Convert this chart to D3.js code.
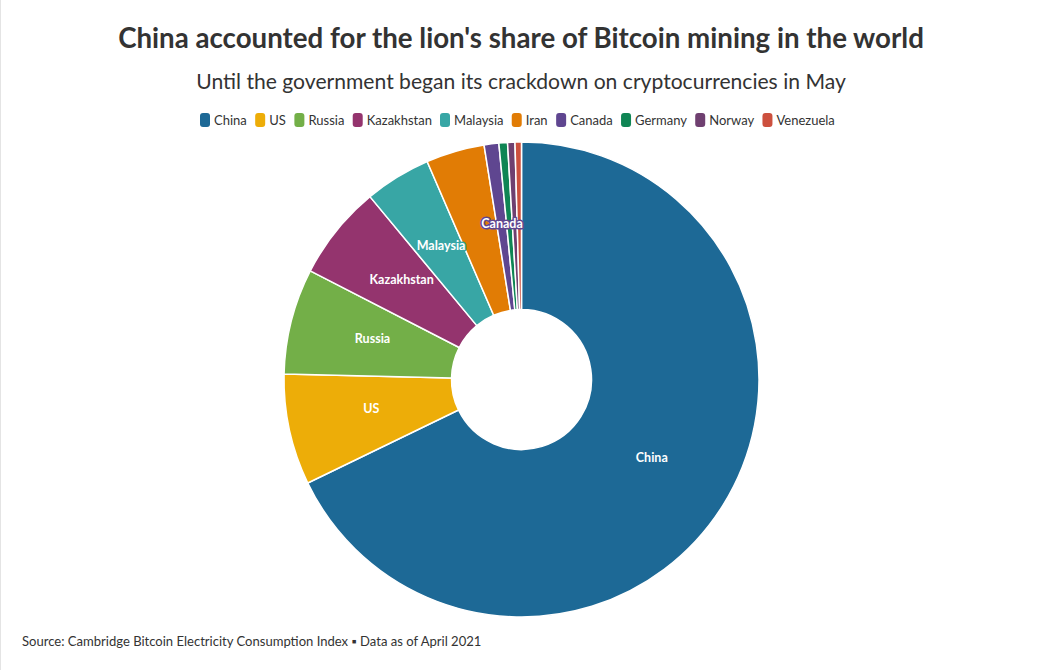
<!DOCTYPE html>
<html><head><meta charset="utf-8">
<script src="https://cdn.jsdelivr.net/npm/d3@7"></script>
<style>
html,body{margin:0;padding:0;background:#fff;}
svg{display:block;font-family:"Lato","Noto Sans",sans-serif;}
</style></head>
<body>
<svg id="chart" width="1040" height="670"></svg>
<script>
const countries = ["China","US","Russia","Kazakhstan","Malaysia","Iran","Canada","Germany","Norway","Venezuela"];
const shares = [65.08,7.24,6.90,6.17,4.33,3.82,0.96,0.56,0.48,0.42];
const colors = ["#1D6996","#EDAD08","#73AF48","#94346E","#38A6A5","#E17C05","#5F4690","#0F8554","#6F4070","#CC503E"];
const titleText = "China accounted for the lion's share of Bitcoin mining in the world";
const subtitleText = "Until the government began its crackdown on cryptocurrencies in May";
const sourceText = "Source: Cambridge Bitcoin Electricity Consumption Index \u25AA Data as of April 2021";

const data = countries.map((c,i)=>({country:c, value:shares[i]}));
const svg = d3.select("#chart");
const W = 1040, H = 670;

svg.append("rect").attr("x",0).attr("y",0).attr("width",1).attr("height",H).attr("fill","#e4e4e4");

function fitText(sel, target){
  const len = sel.node().getComputedTextLength();
  const fs = parseFloat(sel.attr("font-size"));
  sel.attr("font-size", (fs*target/len).toFixed(2));
}

const title = svg.append("text").attr("x",521).attr("y",48).attr("text-anchor","middle")
  .attr("font-size",26).attr("font-weight",700).attr("fill","#333").text(titleText);
fitText(title, 806);
const sub = svg.append("text").attr("x",521).attr("y",89).attr("text-anchor","middle")
  .attr("font-size",20).attr("fill","#333").text(subtitleText);
fitText(sub, 650);

// legend
const color = d3.scaleOrdinal().domain(countries).range(colors);
const legend = svg.append("g");
let lx = 0;
const items = [];
countries.forEach(c=>{
  const g = legend.append("g");
  g.append("rect").attr("width",10).attr("height",14).attr("rx",3).attr("ry",3).attr("y",-7).attr("fill",color(c));
  const t = g.append("text").attr("x",14).attr("y",5).attr("font-size",13).attr("fill","#333").text(c);
  items.push({g, w: 14 + t.node().getComputedTextLength()});
});
const gap = 9;
const totalW = d3.sum(items, d=>d.w) + gap*(items.length-1);
const scaleL = 634/totalW;
items.forEach(it=>{ it.g.attr("transform",`translate(${lx},0)`); lx += (it.w+gap)*scaleL; });
legend.attr("transform",`translate(${200},120)`);

// pie
const cx = 521.5, cy = 379.5, R = 237.5, r0 = 70;
const pie = d3.pie().value(d=>d.value).sort(null);
const arc = d3.arc().innerRadius(r0).outerRadius(R);
const arcs = pie(data);
const g = svg.append("g").attr("transform",`translate(${cx},${cy})`);
g.selectAll("path").data(arcs).join("path")
  .attr("d",arc).attr("fill",d=>color(d.data.country))
  .attr("stroke","#fff").attr("stroke-width",1.5).attr("stroke-linejoin","round");

// labels: place from the last slice backwards, skip tiny slices and any that collide
const total = d3.sum(shares);
const placed = [];
arcs.slice().reverse().forEach(d=>{
  if (d.data.value/total <= 0.008) return;
  const [x,y] = arc.centroid(d);
  const t = g.append("text")
    .attr("transform",`translate(${x},${y})`)
    .attr("text-anchor","middle").attr("dy","0.1em")
    .attr("font-size",12.5).attr("font-weight",700).attr("fill","#fff")
    .attr("stroke",color(d.data.country)).attr("stroke-width",3).attr("stroke-linejoin","round")
    .attr("paint-order","stroke")
    .text(d.data.country);
  const b = t.node().getBBox();
  const box = {x0:x+b.x-2, x1:x+b.x+b.width+2, y0:y+b.y-1, y1:y+b.y+b.height+1};
  if (placed.some(p=>!(box.x1<p.x0||box.x0>p.x1||box.y1<p.y0||box.y0>p.y1))) { t.remove(); return; }
  placed.push(box);
});

const src = svg.append("text").attr("x",22).attr("y",646).attr("font-size",13).attr("fill","#333").text(sourceText);
fitText(src, 460);
</script>
</body></html>
